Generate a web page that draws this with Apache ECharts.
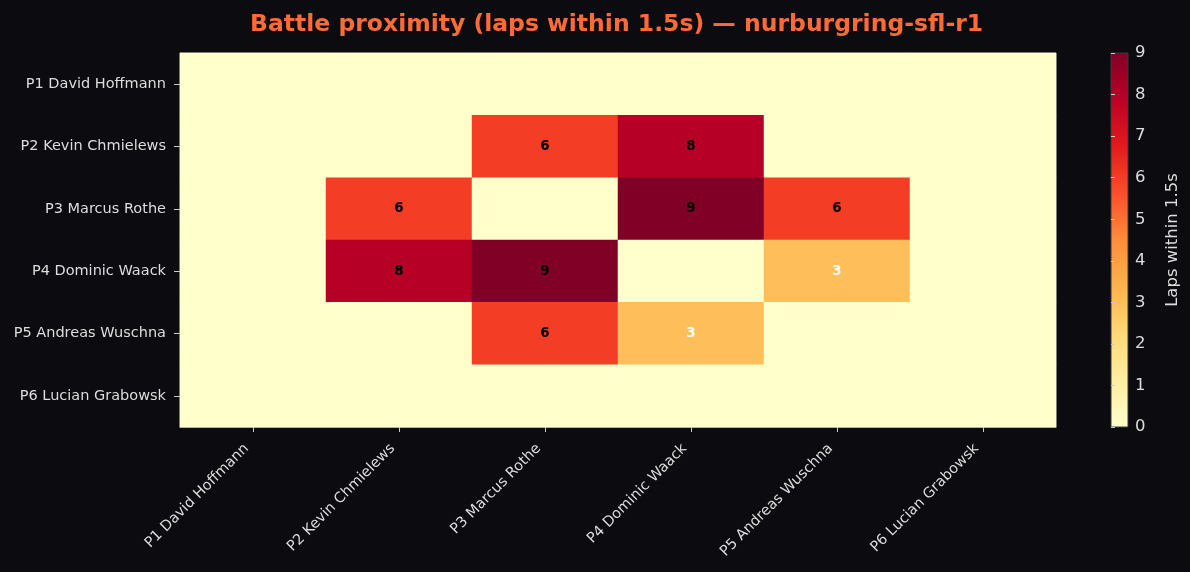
<!DOCTYPE html>
<html>
<head>
<meta charset="utf-8">
<script src="https://cdn.jsdelivr.net/npm/echarts@6/dist/echarts.min.js"></script>
<style>
  html, body { margin: 0; padding: 0; background: #0b0b10; }
  #chart { width: 1190px; height: 572px; }
</style>
</head>
<body>
<div id="chart"></div>
<script>
var drivers = ['P1 David Hoffmann', 'P2 Kevin Chmielews', 'P3 Marcus Rothe',
    'P4 Dominic Waack', 'P5 Andreas Wuschna', 'P6 Lucian Grabowsk']
// rows follow the y axis (top to bottom), columns the x axis
var laps = [
    [0, 0, 0, 0, 0, 0],
    [0, 0, 6, 8, 0, 0],
    [0, 6, 0, 9, 6, 0],
    [0, 8, 9, 0, 3, 0],
    [0, 0, 6, 3, 0, 0],
    [0, 0, 0, 0, 0, 0]
]
var barTicks = [0, 1, 2, 3, 4, 5, 6, 7, 8, 9]
var ylorrd = ['#ffffcc', '#ffeda0', '#fed976', '#feb24c', '#fd8d3c',
    '#fc4e2a', '#e31a1c', '#bd0026', '#800026']

var cells = []
laps.forEach(function (row, r) {
    row.forEach(function (v, c) {
        cells.push({
            value: [c, r, v],
            label: {
                show: v > 0,
                color: v < 5 ? '#ffffff' : '#000000'
            }
        })
    })
})

// colorbar drawn as a gradient behind the second grid
var barGradient = new echarts.graphic.LinearGradient(0, 1, 0, 0,
    ylorrd.map(function (c, i) {
        return { offset: i / (ylorrd.length - 1), color: c }
    }))

var font = 'DejaVu Sans'
var echart = echarts.init(document.getElementById('chart'))
var option = {
    backgroundColor: '#0b0b10',
    animation: false,
    textStyle: { fontFamily: font },
    title: {
        text: 'Battle proximity (laps within 1.5s) \u2014 nurburgring-sfl-r1',
        left: 250,
        top: 13,
        padding: 0,
        textStyle: {
            color: '#ff6b35',
            fontSize: 23.5,
            fontWeight: 'bold',
            fontFamily: font
        }
    },
    grid: [{
        left: 180, top: 53, width: 876, height: 374,
        show: true, borderColor: '#9a9a9a', borderWidth: 1,
        backgroundColor: 'transparent'
    }, {
        left: 1111, top: 53, width: 17, height: 374,
        show: true, borderColor: '#3a3a40', borderWidth: 1,
        backgroundColor: barGradient
    }],
    xAxis: [{
        type: 'category',
        gridIndex: 0,
        data: drivers,
        axisLine: { show: true, lineStyle: { color: '#9a9a9a', width: 1 } },
        axisTick: { show: true, alignWithLabel: true, length: 5, lineStyle: { color: '#cccccc' } },
        axisLabel: {
            rotate: 45, color: '#dddddd', fontSize: 14.5, margin: 13,
            padding: [0, 9, 0, 0], fontFamily: font
        },
        splitLine: { show: false }
    }, {
        type: 'value',
        gridIndex: 1,
        show: false
    }],
    yAxis: [{
        type: 'category',
        gridIndex: 0,
        inverse: true,
        data: drivers,
        axisLine: { show: true, lineStyle: { color: '#9a9a9a', width: 1 } },
        axisTick: { show: true, alignWithLabel: true, length: 6, lineStyle: { color: '#cccccc' } },
        axisLabel: { color: '#dddddd', fontSize: 14.5, margin: 14, fontFamily: font },
        splitLine: { show: false }
    }, {
        type: 'value',
        gridIndex: 1,
        position: 'right',
        min: 0,
        max: 9,
        interval: 1,
        axisLine: { show: true, lineStyle: { color: 'rgba(0,0,0,0)' } },
        axisTick: { show: true, inside: false, length: 4, lineStyle: { color: '#cccccc' } },
        axisLabel: {
            color: '#dddddd', fontSize: 16.5, margin: 7, fontFamily: font,
            formatter: function (v) { return barTicks.indexOf(v) >= 0 ? v : '' }
        },
        splitLine: { show: false },
        name: 'Laps within 1.5s',
        nameLocation: 'middle',
        nameRotate: 90,
        nameGap: 36,
        nameTextStyle: { color: '#dddddd', fontSize: 16.5, fontFamily: font }
    }],
    visualMap: {
        type: 'continuous',
        show: false,
        min: 0,
        max: 9,
        seriesIndex: 0,
        inRange: { color: ylorrd }
    },
    series: [{
        type: 'heatmap',
        xAxisIndex: 0,
        yAxisIndex: 0,
        data: cells,
        label: {
            show: true,
            fontSize: 13.5,
            fontWeight: 'bold',
            fontFamily: font,
            formatter: function (p) { return p.value[2] }
        },
        emphasis: { disabled: true }
    }]
}
echart.setOption(option)
</script>
</body>
</html>
